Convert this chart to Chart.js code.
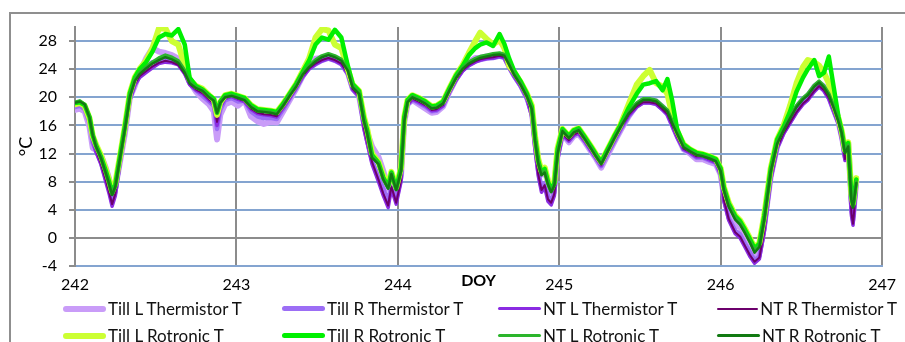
<!DOCTYPE html>
<html lang="en">
<head>
<meta charset="UTF-8">
<title>Air temperature, DOY 242-247</title>
<script src="https://cdn.jsdelivr.net/npm/chart.js@4.4.0/dist/chart.umd.min.js"></script>
<style>
  body { margin: 0; padding: 0; background: #fff; font-family: Lato, 'Open Sans', sans-serif; }
  .wrap { position: relative; width: 905px; height: 342px; overflow: hidden; }
  .frame { position: absolute; left: 9px; top: 12px; width: 940px; height: 380px; border: 2px solid #8f8f8f; box-sizing: border-box; }
  canvas { position: absolute; left: 0; top: 0; }
  .legend { position: absolute; left: 63px; top: 295px; display: grid; grid-template-columns: 219px 216px 219px 180px; grid-auto-rows: 27px; }
  .item { display: flex; align-items: center; font-size: 17px; color: #111; white-space: nowrap; }
  .swatch { width: 43px; border-radius: 3px; margin-right: 2px; }
</style>
</head>
<body>
<div class="wrap">
  <div class="frame"></div>
  <canvas id="chart" width="905" height="342"></canvas>
  <div class="legend" id="legend"></div>
</div>
<script>
// day of year (fractional)
const doy = [
  242.00,242.03,242.06,242.09,242.11,242.13,242.16,242.19,242.21,242.23,242.25,242.28,242.31,242.34,242.37,242.40,242.44,242.48,242.52,242.56,242.60,242.64,242.68,242.71,242.75,242.79,242.83,242.86,242.88,242.90,242.93,242.97,
  243.01,243.05,243.09,243.13,243.17,243.21,243.25,243.29,243.33,243.37,243.41,243.45,243.49,243.53,243.57,243.61,243.65,243.69,243.72,243.76,243.79,243.81,243.84,243.88,243.91,243.94,243.96,243.99,
  244.02,244.04,244.06,244.09,244.13,244.17,244.21,244.24,244.28,244.32,244.36,244.40,244.44,244.48,244.51,244.55,244.59,244.63,244.66,244.69,244.72,244.76,244.80,244.83,244.85,244.87,244.89,244.91,244.93,244.95,244.97,244.99,
  245.02,245.06,245.09,245.12,245.16,245.20,245.23,245.26,245.30,245.34,245.38,245.43,245.48,245.52,245.56,245.60,245.64,245.67,245.70,245.73,245.77,245.81,245.85,245.89,245.93,245.97,
  246.00,246.02,246.05,246.09,246.12,246.15,246.18,246.21,246.24,246.27,246.31,246.35,246.39,246.43,246.47,246.51,246.54,246.58,246.61,246.64,246.67,246.70,246.73,246.75,246.77,246.79,246.81,246.82,246.84
];

const tillLThermistor = [
  18.2,18.4,18.0,15.8,12.8,12.5,11.8,10.0,8.5,6.5,7.2,11.0,15.0,20.0,21.6,23.5,25.5,27.0,26.5,26.3,26.0,25.5,24.0,22.2,20.8,19.8,19.0,18.0,14.0,17.5,19.0,19.4,
  18.8,19.6,17.3,16.6,16.2,16.5,16.4,18.0,19.6,21.2,23.0,24.5,25.5,25.6,25.8,25.4,25.0,23.6,21.3,20.2,16.5,15.0,13.0,11.5,9.5,7.0,8.5,6.5,
  9.0,16.5,19.0,19.6,19.0,18.4,17.8,17.9,18.7,20.8,22.6,24.0,25.0,25.6,25.6,25.8,25.9,26.0,25.8,24.5,23.2,21.8,20.0,18.0,14.0,11.0,9.0,9.5,8.0,6.5,7.5,12.0,
  14.8,13.6,14.5,14.8,13.6,12.2,11.2,10.0,11.8,13.6,15.3,17.3,18.9,19.6,19.6,19.4,18.6,17.8,16.2,14.6,12.6,12.0,11.2,11.2,10.8,10.5,
  9.0,6.0,3.5,1.8,1.5,0.2,-1.0,-2.5,-1.8,1.8,8.8,13.0,15.2,16.8,18.5,19.7,20.2,21.5,22.0,21.5,20.2,18.3,16.5,14.5,12.0,13.5,5.5,3.2,8.0
];
const tillRThermistor = [
  18.6,18.8,18.3,16.3,13.5,12.4,10.8,8.5,7.0,5.2,6.5,11.0,15.2,19.8,21.8,23.0,24.4,25.0,25.2,25.5,25.4,25.0,23.6,22.0,21.0,20.2,19.4,18.8,15.5,18.2,19.6,19.9,
  19.4,19.5,18.0,17.3,17.0,17.1,16.9,18.3,19.8,21.3,22.9,24.1,24.7,25.2,25.5,25.2,24.7,23.3,21.1,20.1,15.8,13.8,11.0,8.8,7.0,5.2,7.5,5.5,
  8.5,16.5,19.0,19.7,19.2,18.7,18.0,18.1,18.8,20.8,22.5,23.8,24.6,25.1,25.3,25.5,25.6,25.8,25.6,24.2,23.0,21.6,19.8,17.5,13.0,9.5,7.2,7.8,6.0,5.2,6.5,11.5,
  14.8,13.8,14.6,14.9,13.7,12.3,11.3,10.2,12.0,13.7,15.4,17.3,18.7,19.3,19.3,19.1,18.3,17.6,16.0,14.4,12.6,12.1,11.4,11.4,11.0,10.7,
  9.0,5.5,2.8,1.0,0.5,-0.8,-2.0,-3.2,-2.6,1.2,8.5,12.9,15.0,16.5,18.0,19.2,19.8,21.0,21.6,21.0,19.9,18.1,16.3,14.2,11.5,12.8,4.2,2.5,7.5
];
const ntLThermistor = [
  18.9,19.1,18.6,16.5,13.8,12.2,10.5,8.0,6.4,4.5,6.0,10.8,15.0,19.6,21.7,22.8,23.5,24.2,24.8,25.0,24.9,24.6,23.3,21.8,21.0,20.5,19.6,19.0,16.0,18.6,19.8,20.1,
  19.7,19.4,18.3,17.7,17.5,17.4,17.2,18.5,19.9,21.3,22.9,24.0,24.7,25.2,25.5,25.2,24.7,23.3,21.1,20.1,15.5,13.5,10.5,8.0,6.0,4.3,7.0,4.8,
  8.0,16.2,18.9,19.7,19.3,18.8,18.1,18.2,18.8,20.7,22.4,23.7,24.5,25.0,25.3,25.5,25.6,25.8,25.6,24.2,23.0,21.6,19.8,17.2,12.5,8.8,6.5,7.2,5.2,4.7,6.0,11.0,
  14.6,13.8,14.6,14.9,13.7,12.3,11.3,10.3,12.1,13.8,15.5,17.4,18.6,19.2,19.2,19.0,18.2,17.5,15.9,14.3,12.6,12.1,11.5,11.5,11.1,10.7,
  9.0,5.2,2.5,0.6,0.0,-1.3,-2.6,-3.6,-3.0,0.8,8.2,12.7,14.8,16.3,17.8,19.0,19.6,20.8,21.5,20.9,19.8,18.0,16.2,14.0,11.0,12.2,3.2,1.8,7.0
];
const ntRThermistor = [
  19.0,19.2,18.7,16.7,14.0,12.5,10.6,8.3,6.6,4.8,6.3,11.0,15.2,19.8,21.9,23.0,23.7,24.4,24.9,25.2,25.0,24.6,23.3,21.9,21.1,20.6,19.7,19.2,16.5,18.8,19.9,20.2,
  19.8,19.5,18.4,17.8,17.6,17.5,17.3,18.6,20.0,21.4,23.0,24.1,24.8,25.3,25.6,25.3,24.8,23.4,21.2,20.2,15.7,13.7,10.8,8.3,6.3,4.6,7.3,5.0,
  8.2,16.4,19.0,19.8,19.4,18.9,18.2,18.3,18.9,20.8,22.5,23.8,24.6,25.1,25.4,25.6,25.7,25.9,25.7,24.3,23.1,21.7,19.9,17.4,12.8,9.0,6.8,7.5,5.5,5.0,6.3,11.3,
  14.8,13.9,14.7,15.0,13.8,12.4,11.4,10.4,12.2,13.9,15.6,17.5,18.7,19.3,19.3,19.1,18.3,17.6,16.0,14.4,12.7,12.2,11.6,11.6,11.2,10.8,
  9.2,5.4,2.7,0.8,0.2,-1.1,-2.4,-3.4,-2.8,1.0,8.4,12.8,14.9,16.4,17.9,19.1,19.7,20.9,21.6,21.0,19.9,18.1,16.3,14.2,11.2,12.4,3.5,2.0,7.2
];
const tillLRotronic = [
  19.0,19.2,18.8,17.0,14.5,13.3,11.8,9.8,8.3,6.6,7.8,11.8,16.0,20.6,22.8,24.0,25.2,27.0,29.8,29.8,28.0,27.5,24.5,22.5,21.6,21.2,20.3,19.7,17.5,19.3,20.3,20.5,
  20.2,19.9,18.9,18.3,18.2,18.1,17.9,19.1,20.5,21.9,23.7,25.5,28.5,29.7,29.5,27.5,27.0,24.0,21.8,20.9,17.2,15.5,12.0,10.8,8.8,7.5,9.4,7.2,
  10.0,17.2,19.6,20.3,19.9,19.4,18.7,18.8,19.4,21.3,23.1,24.5,26.3,28.0,29.2,28.3,27.5,28.2,27.0,24.5,23.6,22.2,20.5,18.8,14.5,11.2,9.5,10.0,8.2,7.0,8.0,12.8,
  15.5,14.5,15.3,15.6,14.3,12.9,11.8,10.8,12.6,14.4,16.1,19.0,21.8,23.0,23.9,22.0,21.5,20.5,17.5,15.2,13.3,12.6,12.1,11.9,11.6,11.2,
  9.9,7.2,5.0,3.2,2.5,1.3,0.0,-1.4,-0.7,3.2,9.9,14.0,16.0,18.8,22.0,24.3,25.3,25.0,24.5,23.5,22.0,19.0,17.0,15.2,12.5,13.6,6.2,4.9,8.5
];
const tillRRotronic = [
  19.2,19.3,18.9,17.2,14.6,13.2,11.6,9.6,8.1,6.4,7.6,11.8,16.0,20.6,22.8,24.0,25.0,26.5,28.5,29.0,28.8,29.7,27.5,22.8,21.6,21.1,20.3,19.8,17.8,19.4,20.3,20.5,
  20.2,19.9,18.9,18.3,18.2,18.1,17.9,19.1,20.5,21.9,23.6,25.2,27.5,28.5,28.2,29.6,28.5,24.5,21.9,20.9,17.0,15.3,11.8,10.7,8.6,7.3,9.3,7.0,
  10.0,17.2,19.6,20.3,19.9,19.4,18.7,18.8,19.4,21.3,23.1,24.4,26.0,27.0,27.5,27.8,27.3,29.0,27.6,25.5,23.8,22.3,20.5,18.7,14.3,11.0,9.3,9.8,8.0,6.8,7.8,12.6,
  15.5,14.5,15.3,15.6,14.3,12.9,11.8,10.8,12.6,14.4,16.1,18.5,20.5,21.8,22.0,22.3,21.0,22.6,19.5,15.5,13.3,12.6,12.1,11.9,11.6,11.2,
  9.9,7.2,4.9,3.1,2.4,1.2,-0.1,-1.5,-0.8,3.1,9.8,14.0,15.8,18.0,20.8,22.8,24.0,25.3,23.0,23.5,25.8,21.5,17.2,15.2,12.5,13.5,6.0,4.7,8.3
];
const ntLRotronic = [
  19.3,19.5,19.0,17.2,14.7,13.1,11.5,9.3,7.9,6.2,7.4,11.6,15.8,20.3,22.5,23.5,24.3,25.0,25.6,26.0,25.7,25.2,23.8,22.2,21.4,21.0,20.1,19.6,17.8,19.3,20.1,20.3,
  20.0,19.7,18.7,18.1,18.0,17.9,17.7,18.9,20.4,21.7,23.4,24.5,25.3,25.9,26.2,25.9,25.4,24.0,21.6,20.7,16.8,15.1,11.6,10.6,8.4,7.1,9.2,6.9,
  9.7,16.8,19.4,20.1,19.7,19.2,18.5,18.6,19.2,21.1,22.9,24.2,25.0,25.5,25.8,26.0,26.2,26.3,26.1,24.8,23.4,22.0,20.2,18.5,14.1,10.8,9.1,9.5,7.8,6.6,7.6,12.3,
  15.3,14.3,15.1,15.4,14.1,12.7,11.6,10.6,12.4,14.2,15.9,17.9,19.2,19.8,19.8,19.6,18.8,18.2,16.6,15.0,13.1,12.4,11.9,11.7,11.4,11.0,
  9.7,7.0,4.7,2.9,2.1,0.9,-0.4,-1.8,-1.1,2.8,9.6,13.6,15.5,17.2,18.8,19.9,20.5,21.7,22.3,21.6,20.5,18.8,16.8,15.0,12.3,13.2,5.7,4.5,8.0
];
const ntRRotronic = [
  19.2,19.4,19.0,17.1,14.6,13.0,11.4,9.3,7.8,6.1,7.3,11.5,15.6,20.1,22.3,23.3,24.1,24.8,25.3,25.7,25.4,24.9,23.5,22.0,21.3,20.9,20.0,19.5,17.8,19.2,20.0,20.2,
  19.9,19.6,18.6,18.0,17.9,17.8,17.6,18.8,20.2,21.5,23.2,24.3,25.1,25.7,26.0,25.7,25.2,23.8,21.4,20.5,16.6,14.9,11.4,10.5,8.3,7.0,9.1,6.8,
  9.5,16.6,19.3,20.0,19.6,19.1,18.4,18.5,19.1,21.0,22.7,24.0,24.8,25.3,25.6,25.8,26.0,26.1,25.9,24.6,23.2,21.8,20.1,18.3,13.9,10.6,8.9,9.3,7.6,6.5,7.5,12.0,
  15.2,14.2,15.0,15.3,14.0,12.6,11.5,10.5,12.3,14.1,15.8,17.7,19.0,19.6,19.6,19.4,18.6,18.0,16.3,14.8,12.9,12.3,11.8,11.6,11.3,10.9,
  9.5,6.8,4.4,2.6,1.9,0.7,-0.6,-2.1,-1.3,2.6,9.4,13.4,15.3,17.0,18.6,19.7,20.3,21.5,22.1,21.4,20.3,18.5,16.5,14.9,12.0,13.0,5.4,4.3,7.8
];

const seriesNames = ['Till L Thermistor T', 'Till R Thermistor T', 'NT L Thermistor T', 'NT R Thermistor T',
                     'Till L Rotronic T', 'Till R Rotronic T', 'NT L Rotronic T', 'NT R Rotronic T'];
const seriesValues = [tillLThermistor, tillRThermistor, ntLThermistor, ntRThermistor,
                      tillLRotronic, tillRRotronic, ntLRotronic, ntRRotronic];
const xTicks = [242, 243, 244, 245, 246, 247];
const yTicks = [-4, 0, 4, 8, 12, 16, 20, 24, 28];

// styles
const lineColors = ['#c99cf8', '#9c6ef5', '#8a2be2', '#6c006c', '#ccff33', '#00f000', '#2cb52c', '#127a12'];
const lineWidths = [6, 4.5, 3.5, 2, 6, 4.5, 3.5, 2.5];

const blueGrid = '#84a4d0';
const grayGrid = '#8c8c8c';
const tickFont = { family: 'Lato', size: 16 };

const datasets = seriesNames.map((name, k) => ({
  label: name,
  data: doy.map((d, i) => ({ x: d, y: seriesValues[k][i] })),
  borderColor: lineColors[k],
  borderWidth: lineWidths[k],
  pointRadius: 0,
  tension: 0,
  borderJoinStyle: 'round',
  borderCapStyle: 'round',
  order: seriesNames.length - k   // last series drawn on top
}));

new Chart(document.getElementById('chart'), {
  type: 'line',
  data: { datasets },
  options: {
    responsive: false,
    animation: false,
    layout: { padding: { left: 10, right: 18, top: 27, bottom: 0 } },
    plugins: { legend: { display: false }, tooltip: { enabled: false } },
    scales: {
      x: {
        type: 'linear',
        min: 242,
        max: 247,
        afterBuildTicks: s => { s.ticks = xTicks.map(v => ({ value: v })); },
        afterFit: s => { s.height = 76; },
        ticks: { padding: 9, color: '#000', font: tickFont, maxRotation: 0 },
        grid: { color: grayGrid, lineWidth: 2, drawTicks: false },
        border: { color: blueGrid, width: 2 },
        title: { display: true, text: 'DOY', color: '#000', font: { family: 'Lato', size: 16, weight: 'bold' }, padding: { top: 0, bottom: 52 } }
      },
      y: {
        min: -4,
        max: 30,
        afterBuildTicks: s => { s.ticks = yTicks.map(v => ({ value: v })); },
        afterFit: s => { s.width = 65; },
        ticks: { padding: 12, color: '#000', font: tickFont },
        grid: {
          color: c => (c.tick && c.tick.value === 0) ? grayGrid : blueGrid,
          lineWidth: 2,
          tickColor: grayGrid,
          tickLength: 6
        },
        border: { color: grayGrid, width: 2 },
        title: { display: true, text: '°C', color: '#000', font: { family: 'Lato', size: 18 }, padding: { top: 5, bottom: 0 } }
      }
    }
  }
});

// legend, 4 columns x 2 rows like the original
const legend = document.getElementById('legend');
seriesNames.forEach((name, k) => {
  const item = document.createElement('div');
  item.className = 'item';
  const sw = document.createElement('span');
  sw.className = 'swatch';
  sw.style.height = lineWidths[k] + 'px';
  sw.style.background = lineColors[k];
  item.appendChild(sw);
  item.appendChild(document.createTextNode(name));
  legend.appendChild(item);
});
</script>
</body>
</html>
